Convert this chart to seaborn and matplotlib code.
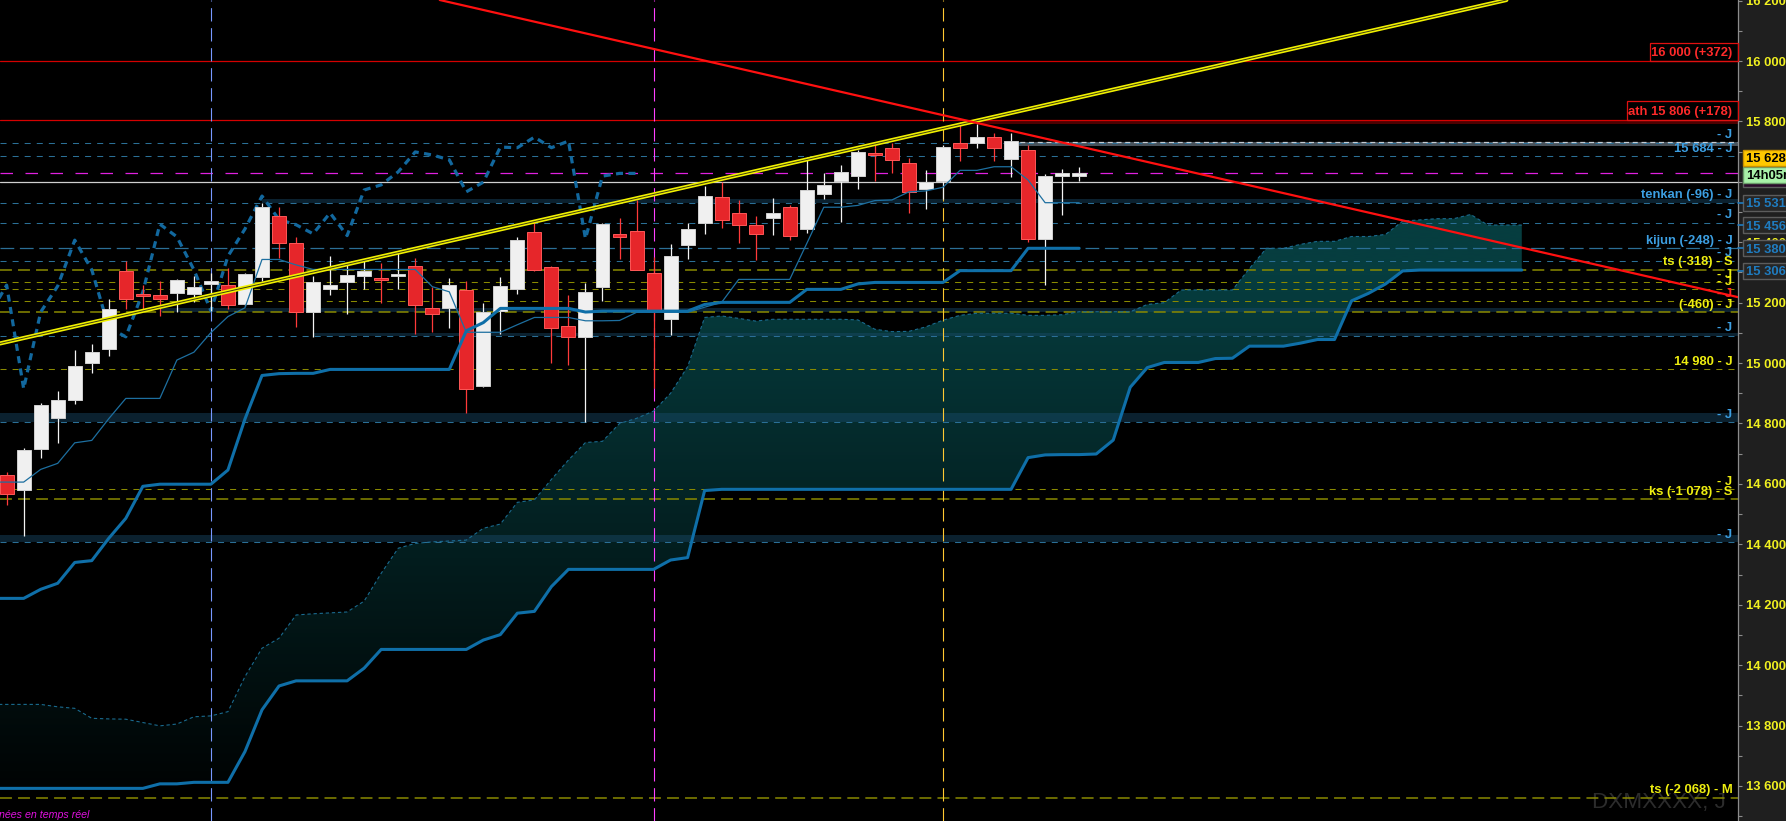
import numpy as np
import pandas as pd
import seaborn as sns
import matplotlib.pyplot as plt
from matplotlib.patches import Rectangle, PathPatch
from matplotlib.path import Path
from matplotlib.colors import LinearSegmentedColormap
from matplotlib.ticker import FixedLocator, MultipleLocator

# daily bars (bar 0 = first visible candle)
opens = [14628, 14580, 14717, 14819, 14878, 15001, 15048, 15305, 15225, 15224,
         15233, 15230, 15263, 15257, 15197, 15286, 15487, 15396, 15170, 15245,
         15269, 15289, 15280, 15289, 15323, 15182, 15183, 15242, 14924, 15173,
         15245, 15434, 15317, 15123, 15087, 15252, 15426, 15437, 15297, 15146,
         15391, 15465, 15549, 15496, 15456, 15481, 15517, 15445, 15560, 15603,
         15620, 15695, 15711, 15661, 15576, 15603, 15728, 15727, 15748, 15677,
         15705, 15412, 15620, 15620]
highs = [14640, 14718, 14867, 14908, 15043, 15063, 15213, 15338, 15257, 15271,
         15278, 15287, 15297, 15315, 15298, 15531, 15518, 15416, 15287, 15354,
         15330, 15341, 15330, 15369, 15347, 15253, 15282, 15272, 15199, 15285,
         15416, 15468, 15320, 15225, 15264, 15464, 15480, 15540, 15352, 15394,
         15465, 15586, 15601, 15540, 15487, 15546, 15523, 15683, 15629, 15656,
         15705, 15733, 15730, 15678, 15639, 15722, 15799, 15791, 15763, 15763,
         15721, 15626, 15642, 15649]
lows = [14530, 14429, 14685, 14734, 14863, 14968, 15024, 15180, 15173, 15157,
        15170, 15203, 15172, 15180, 15190, 15273, 15349, 15121, 15087, 15225,
        15162, 15245, 15200, 15245, 15095, 15104, 15117, 14834, 14921, 15095,
        15230, 15306, 15001, 14994, 14806, 15205, 15346, 15309, 14917, 15093,
        15344, 15427, 15448, 15399, 15341, 15424, 15408, 15431, 15543, 15468,
        15577, 15604, 15630, 15498, 15511, 15544, 15670, 15713, 15670, 15617,
        15402, 15258, 15491, 15604]
closes = [14565, 14712, 14861, 14878, 14990, 15037, 15179, 15211, 15222, 15211,
          15275, 15251, 15272, 15193, 15295, 15518, 15399, 15168, 15268, 15258,
          15292, 15305, 15276, 15291, 15193, 15161, 15258, 14915, 15169, 15255,
          15407, 15309, 15117, 15087, 15235, 15460, 15418, 15309, 15173, 15354,
          15444, 15553, 15475, 15458, 15428, 15497, 15422, 15573, 15590, 15633,
          15699, 15689, 15673, 15567, 15599, 15715, 15713, 15748, 15713, 15735,
          15412, 15619, 15628, 15628]

# ichimoku lines, bar -1 .. 63
tenkan = [14606, 14606, 14606, 14648, 14668, 14736, 14744, 14816, 14883, 14883,
          14883, 15010, 15036, 15101, 15154, 15183, 15343, 15343, 15325, 15310,
          15310, 15310, 15310, 15310, 15310, 15310, 15253, 15236, 15102, 15102,
          15102, 15127, 15151, 15151, 15151, 15140, 15140, 15141, 15168, 15168,
          15168, 15168, 15185, 15201, 15277, 15277, 15277, 15277, 15396, 15516,
          15516, 15522, 15538, 15540, 15567, 15570, 15582, 15638, 15638, 15650,
          15650, 15606, 15531, 15531, 15531]
kijun = [14221, 14221, 14221, 14251, 14271, 14340, 14346, 14420, 14486, 14592,
         14599, 14599, 14599, 14599, 14646, 14815, 14959, 14965, 14966, 14966,
         14979, 14979, 14979, 14979, 14979, 14979, 14979, 14979, 15107, 15134,
         15181, 15181, 15181, 15181, 15181, 15169, 15172, 15172, 15172, 15172,
         15172, 15172, 15194, 15201, 15201, 15201, 15201, 15201, 15244, 15244,
         15244, 15262, 15267, 15267, 15267, 15267, 15267, 15306, 15306, 15306,
         15306, 15380, 15380, 15380, 15380]
# senkou spans, bar -1 .. 89 (projected 26 bars ahead)
span_a = [13870, 13870, 13870, 13870, 13862, 13857, 13824, 13822, 13821, 13810,
          13799, 13805, 13829, 13832, 13846, 13962, 14056, 14089, 14166, 14170,
          14173, 14176, 14212, 14304, 14387, 14403, 14408, 14411, 14414, 14453,
          14467, 14539, 14547, 14615, 14679, 14737, 14741, 14800, 14817, 14841,
          14900, 14988, 15151, 15156, 15148, 15139, 15145, 15145, 15145, 15145,
          15145, 15143, 15112, 15104, 15105, 15120, 15142, 15158, 15165, 15165,
          15165, 15158, 15158, 15160, 15170, 15170, 15170, 15170, 15194, 15200,
          15242, 15242, 15242, 15242, 15313, 15380, 15380, 15393, 15403, 15403,
          15419, 15419, 15426, 15470, 15474, 15478, 15478, 15492, 15457, 15457, 15457]
span_b = [13592, 13592, 13592, 13592, 13592, 13592, 13592, 13592, 13592, 13592,
          13607, 13607, 13612, 13612, 13612, 13714, 13852, 13931, 13948, 13948,
          13948, 13948, 13990, 14052, 14052, 14052, 14052, 14052, 14052, 14083,
          14101, 14172, 14178, 14260, 14317, 14317, 14317, 14317, 14317, 14317,
          14348, 14356, 14578, 14582, 14582, 14582, 14582, 14582, 14582, 14582,
          14582, 14582, 14582, 14582, 14582, 14582, 14582, 14582, 14582, 14582,
          14582, 14687, 14696, 14697, 14697, 14699, 14745, 14920, 14985, 15002,
          15002, 15002, 15015, 15016, 15056, 15056, 15056, 15066, 15078, 15078,
          15206, 15231, 15262, 15305, 15308, 15308, 15308, 15308, 15308, 15308, 15308]

# horizontal levels
red_levels = [16000, 15806]
blue_levels = [15730, 15684, 15531, 15465, 15338, 15090, 14804, 14407]
olive_levels = [15267, 15244, 15204, 14979, 14582]
olive_long_levels = [15308, 15168, 14549, 13560]
kijun_level = 15380
last_price = 15628
round_level = 15600
band_levels = [15531, 15168, 15090, 14804, 14407]
band_start = [15, 9, 18, -1, -1]

label_levels = [15730, 15684, 15531, 15465, 15380, 15338, 15308, 15267, 15244,
                15204, 15168, 15090, 14979, 14804, 14582, 14549, 14407, 13560]
label_texts = ['- J', '15 684 - J', 'tenkan (-96) - J', '- J', 'kijun (-248) - J',
               '- J', 'ts (-318) - S', '- J', '- J', '- J', '(-460) - J', '- J',
               '14 980 - J', '- J', '- J', 'ks (-1 078) - S', '- J', 'ts (-2 068) - M']
label_kind = ['b', 'b', 'b', 'b', 'b', 'b', 'y', 'y', 'y', 'r', 'y', 'b',
              'y', 'b', 'y', 'y', 'b', 'y']

side_levels = [15531, 15456, 15380, 15306]
tick_values = [13600, 13800, 14000, 14200, 14400, 14600, 14800, 15000,
               15200, 15400, 15600, 15800, 16000, 16200]

W, H = 1786, 821
X0, X1 = -0.39, 101.7
Y0, Y1 = 13484, 16202
BLUE = '#2b6f96'
OLIVE = '#8a8a00'
LINE_BLUE = '#0f6fa8'

sns.set_style('dark')
plt.rcParams['font.family'] = ['Liberation Sans', 'DejaVu Sans']

fig = plt.figure(figsize=(W / 100, H / 100), dpi=100, facecolor='#1f1f1f')
ax = fig.add_axes([0, 0, 1738 / W, 1])
ax.set_facecolor('black')
ax.grid(False)

# cloud with a vertical fade
kumo = pd.DataFrame({'bar': np.arange(-1, 90), 'a': span_a, 'b': span_b})
poly = ax.fill_between(kumo['bar'], kumo['a'], kumo['b'], facecolor='none', edgecolor='none')
clip = PathPatch(Path.make_compound_path(*poly.get_paths()), transform=ax.transData,
                 facecolor='none', edgecolor='none')
ax.add_patch(clip)
shade = np.clip((np.linspace(13480, 15520, 256) - 13500) / 1800, 0, 1).reshape(-1, 1)
cmap = LinearSegmentedColormap.from_list('kumo', ['#000000', '#063d3f'])
im = ax.imshow(shade, extent=(-1, 89, 13480, 15520), origin='lower', aspect='auto',
               cmap=cmap, vmin=0, vmax=1, zorder=1, interpolation='bilinear')
im.set_clip_path(clip)

# horizontal levels
for lv in red_levels:
    ax.axhline(lv, color='#d40000', lw=0.9, zorder=2)
ax.add_patch(Rectangle((57, 15793), X1 - 57, 13, facecolor='#4d0000', edgecolor='none', zorder=1.8))
ax.add_patch(Rectangle((59, 15720), X1 - 59, 13, facecolor='#48525b', edgecolor='none', zorder=1.8))
ax.plot([59, X1], [15732, 15732], color='#c4ccd4', lw=0.9, ls=(0, (4, 3)), zorder=2.1)
for lv in blue_levels:
    ax.axhline(lv, color=BLUE, lw=0.75, ls=(0, (5.8, 5.8)), zorder=2)
ax.axhline(kijun_level, color=BLUE, lw=0.9, ls=(0, (11, 4.5)), zorder=2)
for lv in olive_levels:
    ax.axhline(lv, color=OLIVE, lw=0.75, ls=(0, (5.8, 5.8)), zorder=2)
for lv in olive_long_levels:
    ax.axhline(lv, color=OLIVE, lw=1.1, ls=(0, (7.8, 4)), zorder=2)
for lv, st, th in zip(band_levels, band_start, [4, 4, 3, 9, 7]):
    ax.add_patch(Rectangle((st, lv), X1 - st, th * 3.31, facecolor='#1a4a6a',
                           alpha=0.45, edgecolor='none', zorder=1.7))
ax.axhline(last_price, color='#e020e0', lw=0.9, ls=(0, (10, 10)), zorder=2.2)
ax.axhline(round_level, color='#cfcfcf', lw=0.9, zorder=2.2)

# vertical markers
for xv, col in zip([12, 38, 55], ['#7898ff', '#ff40ff', '#ffc832']):
    ax.axvline(xv, color=col, lw=0.8, ls=(0, (12, 6)), zorder=2.3)

# ichimoku lines
ind = pd.DataFrame({'bar': np.arange(-1, 64), 'tenkan': tenkan, 'kijun': kijun})
chikou = pd.DataFrame({'bar': np.arange(len(closes)) - 26, 'close': closes}).query('bar >= -1')
sns.lineplot(data=kumo, x='bar', y='a', ax=ax, color='#1a6a8e', lw=0.8,
             linestyle=(0, (3, 2.5)), estimator=None, errorbar=None, zorder=3)
sns.lineplot(data=kumo, x='bar', y='b', ax=ax, color=LINE_BLUE, lw=2.2,
             estimator=None, errorbar=None, zorder=3)
sns.lineplot(data=chikou, x='bar', y='close', ax=ax, color='#12689e', lw=2.3,
             linestyle=(0, (2.2, 1.7)), estimator=None, errorbar=None, zorder=3)

# candles
o, h, l, c = (np.array(v, dtype=float) for v in (opens, highs, lows, closes))
bars = np.arange(len(c))
up = c >= o
ax.vlines(bars, l, h, colors=np.where(up, '#f4f4f4', '#ff3a3a'), lw=0.9, zorder=4)
ax.bar(bars, np.maximum(np.abs(c - o), 7), bottom=np.minimum(o, c), width=0.82,
       color=np.where(up, '#f0f0f0', '#e6262a'), edgecolor=np.where(up, '#d0d0d0', '#ff5858'),
       lw=0.7, zorder=4.2)

sns.lineplot(data=ind, x='bar', y='tenkan', ax=ax, color='#1d6fa0', lw=0.9,
             estimator=None, errorbar=None, zorder=4.5)
sns.lineplot(data=ind, x='bar', y='kijun', ax=ax, color=LINE_BLUE, lw=2.2,
             estimator=None, errorbar=None, zorder=4.5)

# trend lines
ax.axline((0, 15070), slope=12.85, color='#f2f200', lw=3.0, zorder=5)
ax.axline((0, 15070), slope=12.85, color='#3a3a10', lw=0.7, zorder=5.1)
ax.axline((49.55, 15891), slope=-12.9, color='#ff1010', lw=1.6, zorder=5.2)

# right-hand labels inside the plot
ytr = ax.get_yaxis_transform()
kind_col = {'b': '#3c9fe2', 'y': '#eeee10', 'r': '#ff2020'}
for lv, txt, k in zip(label_levels, label_texts, label_kind):
    ax.annotate(txt, xy=(1, lv), xycoords=ytr, xytext=(-4, 3.3), textcoords='offset points',
                ha='right', va='baseline', color=kind_col[k], fontsize=9.4,
                fontweight='bold', zorder=6)
for lv, txt, bw in zip(red_levels, ['16 000 (+372)', 'ath 15 806 (+178)'], [88, 111]):
    ax.annotate(txt, xy=(1, lv), xycoords=ytr, xytext=(-4, 3.3), textcoords='offset points',
                ha='right', va='baseline', color='#ff2a2a', fontsize=9.4,
                fontweight='bold', zorder=6)
    ax.add_patch(Rectangle((1 - bw / 1738, lv), bw / 1738, 60, transform=ytr, fill=False,
                           edgecolor='#e01010', lw=0.9, zorder=6, clip_on=False))

ax.text(1726 / 1738, 13 / H, 'DXMXXXX, J', transform=ax.transAxes, ha='right',
        va='baseline', fontsize=16.2, color='#2c2c2c', zorder=0.6)

# price axis
ax.set_xlim(X0, X1)
ax.set_ylim(Y0, Y1)
ax.set_xlabel('')
ax.set_ylabel('')
ax.set_xticks([])
ax.yaxis.tick_right()
ax.yaxis.set_major_locator(FixedLocator(tick_values))
ax.set_yticklabels([f'{v:,}'.replace(',', ' ') for v in tick_values])
ax.yaxis.set_minor_locator(MultipleLocator(100))
ax.tick_params(axis='y', which='major', length=2.9, width=0.8, color='#8c8c8c',
               pad=2.9, labelcolor='#f0f020', labelsize=9.4)
ax.tick_params(axis='y', which='minor', length=2.9, width=0.8, color='#8c8c8c')
for lbl in ax.get_yticklabels():
    lbl.set_fontweight('bold')
for side in ['left', 'top', 'bottom']:
    ax.spines[side].set_visible(False)
ax.spines['right'].set_color('#8c8c8c')
ax.spines['right'].set_linewidth(0.9)


def fig_y(price):
    return (price - Y0) / (Y1 - Y0)


def axis_box(price, text, face, edge, tcol, zo=5):
    yc = fig_y(price)
    hh = 16 / H
    fig.add_artist(Rectangle((1743 / W, yc - hh / 2), 60 / W, hh, transform=fig.transFigure,
                             facecolor=face, edgecolor=edge, lw=1, zorder=zo))
    fig.text(1746 / W, yc, text, color=tcol, fontsize=9.4, fontweight='bold',
             va='center_baseline', ha='left', zorder=zo + 0.1)


for lv in side_levels:
    axis_box(lv, f'{lv:,}'.replace(',', ' '), '#262626', '#5c5c5c', '#1f7cc0')
    fig.add_artist(plt.Line2D([1738 / W, 1743 / W], [fig_y(lv)] * 2, color='#1f7cc0',
                              lw=1.2, transform=fig.transFigure, zorder=5))
axis_box(15609, '15 628', '#2a0a2a', '#5c5c5c', '#e020e0', zo=5)
axis_box(15624, '14h05m', '#a8f0a8', '#6a9a6a', '#000000', zo=6)
axis_box(15680, '15 628', '#ffc800', '#c89000', '#000000', zo=7)

fig.text(-1 / W, 3 / H, 'nées en temps réel', color='#e010e0', fontsize=7.7,
         style='italic', ha='left', va='baseline')

fig.savefig('out.png', dpi=100, facecolor=fig.get_facecolor())
